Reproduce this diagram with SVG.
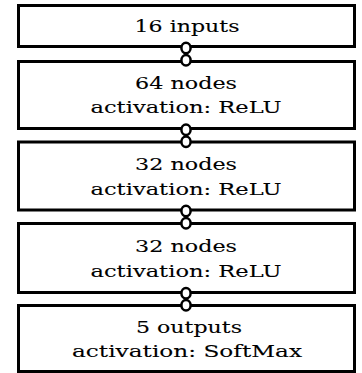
<svg xmlns="http://www.w3.org/2000/svg" width="362" height="373" viewBox="0 0 362 373">
<style>
.box{fill:#fff;stroke:#000;stroke-width:3}
.lbl{font-family:"DejaVu Serif","Liberation Serif",serif;font-size:17.5px;fill:#000;text-anchor:middle;stroke:#000;stroke-width:0.1}
.edge{stroke:#000;stroke-width:2.5;fill:none}
.dot{fill:#fff;stroke:#000;stroke-width:2.5}
</style>
<rect width="362" height="373" fill="#fff"/>
<g id="n1"><rect class="box" x="18.5" y="5.5" width="336" height="41"/><text class="lbl" x="187" y="32" textLength="105" lengthAdjust="spacingAndGlyphs">16 inputs</text></g>
<g id="n2"><rect class="box" x="18.5" y="61.5" width="336" height="67"/><text class="lbl" x="186" y="89" textLength="102" lengthAdjust="spacingAndGlyphs">64 nodes</text><text class="lbl" x="186" y="113" textLength="191" lengthAdjust="spacingAndGlyphs">activation: ReLU</text></g>
<g id="n3"><rect class="box" x="18.5" y="142" width="336" height="68"/><text class="lbl" x="186" y="170" textLength="102" lengthAdjust="spacingAndGlyphs">32 nodes</text><text class="lbl" x="186" y="194.5" textLength="191" lengthAdjust="spacingAndGlyphs">activation: ReLU</text></g>
<g id="n4"><rect class="box" x="18.5" y="223.5" width="336" height="69"/><text class="lbl" x="186" y="252" textLength="102" lengthAdjust="spacingAndGlyphs">32 nodes</text><text class="lbl" x="186" y="276.5" textLength="191" lengthAdjust="spacingAndGlyphs">activation: ReLU</text></g>
<g id="n5"><rect class="box" x="18.5" y="305.5" width="336" height="66"/><text class="lbl" x="189" y="332.5" textLength="106" lengthAdjust="spacingAndGlyphs">5 outputs</text><text class="lbl" x="187" y="357" textLength="230" lengthAdjust="spacingAndGlyphs">activation: SoftMax</text></g>
<g id="edges">
<line class="edge" x1="186" y1="46.5" x2="186" y2="61.5"/>
<ellipse class="dot" cx="186" cy="48" rx="4.6" ry="5.2"/><ellipse class="dot" cx="186" cy="60.3" rx="4.6" ry="5.2"/>
<line class="edge" x1="186" y1="128.5" x2="186" y2="142"/>
<ellipse class="dot" cx="186" cy="129.7" rx="4.6" ry="5.2"/><ellipse class="dot" cx="186" cy="141.8" rx="4.6" ry="5.2"/>
<line class="edge" x1="186" y1="210" x2="186" y2="223.5"/>
<ellipse class="dot" cx="186" cy="211" rx="4.6" ry="5.2"/><ellipse class="dot" cx="186" cy="223.3" rx="4.6" ry="5.2"/>
<line class="edge" x1="186" y1="292.5" x2="186" y2="305.5"/>
<ellipse class="dot" cx="186" cy="293.3" rx="4.6" ry="5.2"/><ellipse class="dot" cx="186" cy="305.3" rx="4.6" ry="5.2"/>
</g>
</svg>
